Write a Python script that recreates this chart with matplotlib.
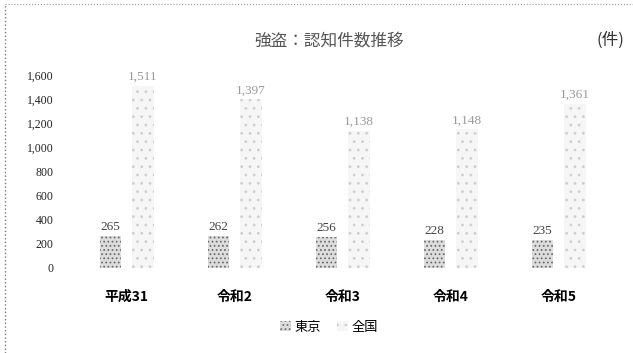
import numpy as np
import matplotlib
matplotlib.use("Agg")
import matplotlib.pyplot as plt
from matplotlib.patches import Patch
from matplotlib.lines import Line2D

plt.rcParams['font.family'] = ['Noto Sans CJK JP', 'DejaVu Sans']
plt.rcParams['hatch.linewidth'] = 0.8

# robbery counts per year
years = ["平成31", "令和2", "令和3", "令和4", "令和5"]
tokyo = [265, 262, 256, 228, 235]
national = [1511, 1397, 1138, 1148, 1361]
yticks = [0, 200, 400, 600, 800, 1000, 1200, 1400, 1600]

tokyo_style = dict(facecolor="#dddddd", edgecolor="#6e6e6e", hatch="....", linewidth=0)
nat_style = dict(facecolor="#f6f6f6", edgecolor="#cfcfcf", hatch="..", linewidth=0)

fig = plt.figure(figsize=(6.33, 3.53), dpi=100)
ax = fig.add_axes([0.115, 0.241, 0.853, 0.547])

x = np.arange(len(years))
w = 0.2
off = 0.15
ax.bar(x - off, tokyo, w, **tokyo_style)
ax.bar(x + off, national, w, **nat_style)

for xi, v in zip(x, tokyo):
    ax.text(xi - off, v + 25, f"{v:,}", ha="center", va="bottom",
            fontsize=9.5, color="#444444", family=["Liberation Serif"],
            clip_on=False)
for xi, v in zip(x, national):
    ax.text(xi + off, v + 25, f"{v:,}", ha="center", va="bottom",
            fontsize=9.5, color="#9a9a9a", family=["Liberation Serif"],
            clip_on=False)

ax.set_xlim(-0.5, len(years) - 0.5)
ax.set_ylim(0, 1600)
ax.set_yticks(yticks)
ax.set_yticklabels([f"{t:,}" for t in yticks], family=["Liberation Serif"],
                   fontsize=8.5, color="#222222")
ax.set_xticks(x)
ax.set_xticklabels(years, fontsize=10, fontweight="bold")
ax.tick_params(axis="y", length=0, pad=14)
ax.tick_params(axis="x", length=0, pad=16)
for s in ax.spines.values():
    s.set_visible(False)

fig.text(0.52, 0.885, "強盗：認知件数推移", ha="center", va="center",
         fontsize=12, color="#555555")
fig.text(0.965, 0.885, "(件)", ha="center", va="center", fontsize=12,
         color="#333333")

handles = [Patch(**tokyo_style), Patch(**nat_style)]
fig.legend(handles, ["東京", "全国"], loc="center", bbox_to_anchor=(0.52, 0.073),
           ncol=2, frameon=False, fontsize=9.5, handlelength=0.8, handleheight=0.8,
           columnspacing=1.2, handletextpad=0.3)

# dotted frame along the left and top edges
fig.add_artist(Line2D([0.008, 0.008], [0.0, 0.99], transform=fig.transFigure,
                      color="#777777", linestyle=":", linewidth=1.0))
fig.add_artist(Line2D([0.008, 1.0], [0.99, 0.99], transform=fig.transFigure,
                      color="#999999", linestyle=":", linewidth=0.8))

fig.savefig("out.png", dpi=100)
